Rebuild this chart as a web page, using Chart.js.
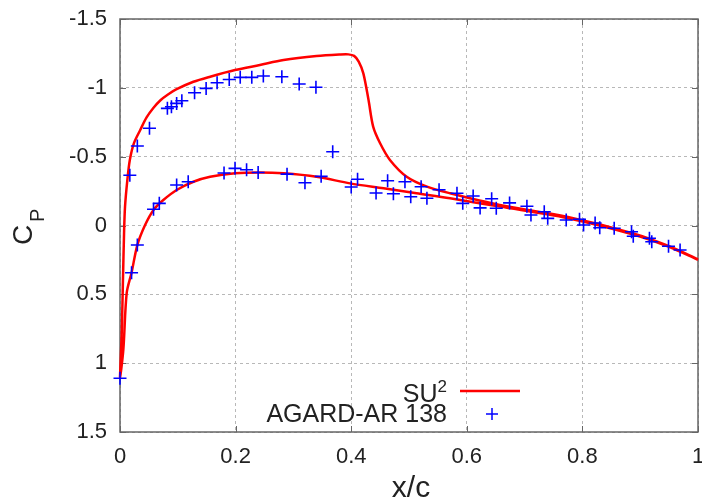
<!DOCTYPE html>
<html>
<head>
<meta charset="utf-8">
<script src="https://cdn.jsdelivr.net/npm/chart.js@4/dist/chart.umd.min.js"></script>
<style>
  html, body { margin: 0; padding: 0; background: #fff; }
  #wrap { width: 702px; height: 501px; }
</style>
</head>
<body>
<div id="wrap"><canvas id="chart"></canvas></div>
<script>
// SU2 computed Cp, suction side (ascending x/c)
const su2UpperX  = [0, 0.003, 0.005, 0.007, 0.0087, 0.0127, 0.017, 0.024, 0.035, 0.046, 0.058, 0.07, 0.083, 0.098, 0.127, 0.156, 0.199, 0.242, 0.283, 0.34, 0.38, 0.395, 0.405, 0.413, 0.421, 0.43, 0.438, 0.45, 0.467, 0.496, 0.531, 0.571, 0.657, 0.773, 0.888, 0.95, 1.0];
const su2UpperCp = [1.1, 0.78, 0.42, 0.057, -0.137, -0.33, -0.476, -0.597, -0.694, -0.785, -0.855, -0.91, -0.952, -0.99, -1.044, -1.081, -1.129, -1.166, -1.202, -1.231, -1.242, -1.243, -1.232, -1.19, -1.105, -0.911, -0.718, -0.597, -0.476, -0.354, -0.282, -0.234, -0.149, -0.064, 0.057, 0.15, 0.245];
// SU2 computed Cp, pressure side (ascending x/c)
const su2LowerX  = [0, 0.0058, 0.0116, 0.02, 0.03, 0.043, 0.058, 0.075, 0.098, 0.127, 0.156, 0.199, 0.242, 0.283, 0.34, 0.398, 0.456, 0.513, 0.571, 0.657, 0.773, 0.888, 0.95, 1.0];
const su2LowerCp = [1.1, 0.9, 0.49, 0.343, 0.142, 0, -0.113, -0.185, -0.258, -0.318, -0.354, -0.379, -0.385, -0.379, -0.354, -0.306, -0.27, -0.234, -0.198, -0.137, -0.055, 0.065, 0.155, 0.25];

// AGARD-AR 138 experiment
const expUpperX  = [0.017, 0.030, 0.051, 0.082, 0.089, 0.098, 0.107, 0.129, 0.149, 0.168, 0.189, 0.208, 0.228, 0.248, 0.280, 0.310, 0.339, 0.368, 0.411, 0.463, 0.493, 0.521, 0.552, 0.583, 0.611, 0.643, 0.674, 0.704, 0.734, 0.772, 0.795, 0.822, 0.855, 0.885, 0.916, 0.949, 0.969];
const expUpperCp = [-0.365, -0.577, -0.706, -0.851, -0.863, -0.887, -0.906, -0.964, -0.996, -1.037, -1.061, -1.076, -1.076, -1.086, -1.081, -1.028, -1.004, -0.536, -0.336, -0.325, -0.318, -0.282, -0.26, -0.234, -0.214, -0.194, -0.164, -0.14, -0.10, -0.04, -0.045, -0.018, 0.02, 0.045, 0.093, 0.151, 0.178];
const expLowerX  = [0.0, 0.020, 0.030, 0.058, 0.068, 0.098, 0.118, 0.180, 0.199, 0.219, 0.239, 0.289, 0.320, 0.348, 0.400, 0.443, 0.473, 0.503, 0.531, 0.593, 0.623, 0.651, 0.711, 0.740, 0.802, 0.830, 0.888, 0.920];
const expLowerCp = [1.11, 0.343, 0.142, -0.118, -0.161, -0.294, -0.318, -0.381, -0.415, -0.405, -0.385, -0.373, -0.311, -0.357, -0.28, -0.236, -0.231, -0.209, -0.198, -0.161, -0.128, -0.125, -0.076, -0.052, -0.004, 0.016, 0.078, 0.118];

const xTicks = [0, 0.2, 0.4, 0.6, 0.8, 1];
const xTickLabels = ['0', '0.2', '0.4', '0.6', '0.8', '1'];
const yTicks = [-1.5, -1, -0.5, 0, 0.5, 1, 1.5];
const yTickLabels = ['-1.5', '-1', '-0.5', '0', '0.5', '1', '1.5'];

const textColor = '#222';
const boxColor = '#666';
const fontFamily = '"Liberation Sans", Arial, sans-serif';

// one line going TE -> LE along the suction side, then LE -> TE on the pressure side
const su2Points = [];
for (let i = su2UpperX.length - 1; i >= 0; i--) su2Points.push({x: su2UpperX[i], y: su2UpperCp[i]});
for (let i = 1; i < su2LowerX.length; i++) su2Points.push({x: su2LowerX[i], y: su2LowerCp[i]});

const expPoints = expUpperX.map((x, i) => ({x, y: expUpperCp[i]}))
  .concat(expLowerX.map((x, i) => ({x, y: expLowerCp[i]})));

const framePlugin = {
  id: 'frame',
  beforeDatasetsDraw(chart) {
    const {ctx, chartArea: a, scales} = chart;
    ctx.save();
    ctx.strokeStyle = boxColor;
    ctx.lineWidth = 1.5;
    ctx.strokeRect(a.left, a.top, a.right - a.left, a.bottom - a.top);
    ctx.lineWidth = 1;
    ctx.beginPath();
    xTicks.forEach(v => {
      const px = Math.round(scales.x.getPixelForValue(v)) + 0.5;
      ctx.moveTo(px, a.bottom); ctx.lineTo(px, a.bottom - 6);
      ctx.moveTo(px, a.top); ctx.lineTo(px, a.top + 6);
    });
    yTicks.forEach(v => {
      const py = Math.round(scales.y.getPixelForValue(v)) + 0.5;
      ctx.moveTo(a.left, py); ctx.lineTo(a.left + 6, py);
      ctx.moveTo(a.right, py); ctx.lineTo(a.right - 6, py);
    });
    ctx.stroke();
    ctx.restore();
  },
  afterDraw(chart) {
    const {ctx, chartArea: a} = chart;
    ctx.save();
    ctx.fillStyle = textColor;
    ctx.textBaseline = 'alphabetic';

    // x axis title
    ctx.font = '30px ' + fontFamily;
    ctx.textAlign = 'center';
    ctx.fillText('x/c', (a.left + a.right) / 2 + 2, 497);

    // y axis title C_P, rotated
    ctx.save();
    ctx.translate(32, 226);
    ctx.rotate(-Math.PI / 2);
    ctx.textAlign = 'left';
    ctx.font = '28px ' + fontFamily;
    ctx.fillText('C', -19, 0);
    ctx.font = '20px ' + fontFamily;
    ctx.fillText('P', 4, 12);
    ctx.restore();

    // legend, gnuplot style: text right-aligned, sample on the right
    const ds = chart.data.datasets;
    ctx.textAlign = 'right';
    ctx.font = '17px ' + fontFamily;
    ctx.fillText('2', 447, 392);
    const supW = ctx.measureText('2').width;
    ctx.font = '25px ' + fontFamily;
    ctx.fillText(ds[1].label.replace('²', ''), 447 - supW, 402);
    ctx.fillText(ds[0].label, 447, 422);

    ctx.strokeStyle = ds[1].borderColor;
    ctx.lineWidth = 2.5;
    ctx.beginPath();
    ctx.moveTo(460, 391); ctx.lineTo(520, 391);
    ctx.stroke();

    ctx.strokeStyle = ds[0].borderColor;
    ctx.lineWidth = 1.5;
    ctx.beginPath();
    ctx.moveTo(486, 414); ctx.lineTo(498, 414);
    ctx.moveTo(492, 408); ctx.lineTo(492, 420);
    ctx.stroke();
    ctx.restore();
  }
};

function fixWidth(w) {
  return scale => {
    scale.width = w;
    scale.paddingLeft = scale.paddingRight = scale.paddingTop = scale.paddingBottom = 0;
  };
}
function fixHeight(h) {
  return scale => {
    scale.height = h;
    scale.paddingLeft = scale.paddingRight = scale.paddingTop = scale.paddingBottom = 0;
  };
}

new Chart(document.getElementById('chart').getContext('2d'), {
  type: 'scatter',
  data: {
    datasets: [{
      label: 'AGARD-AR 138',
      data: expPoints,
      showLine: false,
      pointStyle: 'cross',
      pointRadius: 6.5,
      pointBorderWidth: 1.6,
      borderColor: '#0000ff',
      backgroundColor: '#0000ff',
      clip: false
    }, {
      label: 'SU²',
      data: su2Points,
      showLine: true,
      pointRadius: 0,
      borderColor: '#ff0000',
      borderWidth: 2.5,
      tension: 0.3,
      clip: false
    }]
  },
  options: {
    responsive: true,
    maintainAspectRatio: false,
    animation: false,
    events: [],
    layout: { autoPadding: false, padding: { top: 19, right: 4, left: 0, bottom: 0 } },
    plugins: { legend: { display: false }, tooltip: { enabled: false } },
    scales: {
      x: {
        type: 'linear',
        min: 0,
        max: 1,
        afterBuildTicks: scale => { scale.ticks = xTicks.map(v => ({value: v})); },
        afterFit: fixHeight(69),
        ticks: {
          callback: (v, i) => xTickLabels[i],
          font: { size: 22, family: fontFamily },
          color: textColor,
          padding: 12,
          maxRotation: 0,
          autoSkip: false
        },
        grid: { color: '#b8b8b8', lineWidth: 1, drawTicks: false },
        border: { display: false, dash: [3, 3] }
      },
      y: {
        type: 'linear',
        reverse: true,
        min: -1.5,
        max: 1.5,
        afterBuildTicks: scale => { scale.ticks = yTicks.map(v => ({value: v})); },
        afterFit: fixWidth(120),
        ticks: {
          callback: (v, i) => yTickLabels[i],
          font: { size: 22, family: fontFamily },
          color: textColor,
          padding: 13,
          autoSkip: false
        },
        grid: { color: '#b8b8b8', lineWidth: 1, drawTicks: false },
        border: { display: false, dash: [3, 3] }
      }
    }
  },
  plugins: [framePlugin]
});
</script>
</body>
</html>
